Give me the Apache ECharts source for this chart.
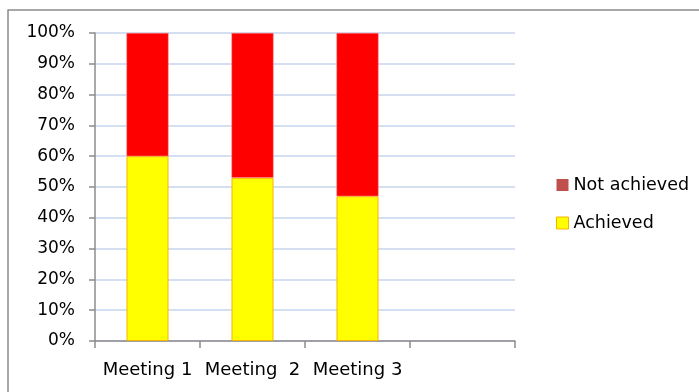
<!DOCTYPE html>
<html>
<head>
<meta charset="utf-8">
<script src="https://cdn.jsdelivr.net/npm/echarts@6/dist/echarts.min.js"></script>
<style>
  html, body { margin: 0; padding: 0; background: #fff; }
</style>
</head>
<body>
<div id="meetingChart" style="width: 699px; height: 392px"></div>
<script>
// data
let categories = ["Meeting 1", "Meeting  2", "Meeting 3", ""];
let achieved = [60, 53, 47, null];
let notAchieved = [40, 47, 53, null];
let seriesNames = ["Not achieved", "Achieved"];

let chartsOptions = {
  animation: false,
  textStyle: { fontFamily: "'DejaVu Sans', sans-serif" },
  graphic: [{
    type: "rect",
    shape: { x: 8, y: 10, width: 760, height: 460 },
    style: { fill: "none", stroke: "#8c8c8c", lineWidth: 1.5 },
    silent: true
  }],
  grid: {
    top: 33,
    left: 95,
    right: 184,
    bottom: 51
  },
  legend: {
    orient: "vertical",
    left: 551,
    top: 171,
    itemWidth: 12,
    itemHeight: 12,
    itemGap: 20,
    icon: "rect",
    textStyle: { fontSize: 17.5, color: "#000" },
    data: [
      { name: "Not achieved", itemStyle: { color: "#c0504d", borderWidth: 0 } },
      { name: "Achieved", itemStyle: { color: "#ffff00", borderColor: "#f5b400", borderWidth: 1 } }
    ]
  },
  xAxis: {
    type: "category",
    data: categories,
    boundaryGap: true,
    axisLine: { lineStyle: { color: "#8c8c8c", width: 1.5 } },
    axisTick: { show: true, length: 7, alignWithLabel: false, lineStyle: { color: "#8c8c8c", width: 1.5 } },
    axisLabel: { fontSize: 18, color: "#000", margin: 20, interval: 0 },
    splitLine: { show: false }
  },
  yAxis: {
    type: "value",
    min: 0,
    max: 100,
    interval: 10,
    axisLine: { show: true, lineStyle: { color: "#8c8c8c", width: 1.5 } },
    axisTick: { show: true, length: 6, lineStyle: { color: "#8c8c8c", width: 1.5 } },
    axisLabel: { formatter: "{value}%", fontSize: 17, color: "#000", margin: 20, padding: [4, 0, 0, 0] },
    splitLine: { show: true, lineStyle: { color: "#c6d4ec", width: 1.5 } }
  },
  series: [
    {
      name: seriesNames[1],
      type: "bar",
      stack: "total",
      barWidth: 42,
      data: achieved,
      itemStyle: { color: "#ffff00", borderColor: "#f5b400", borderWidth: 1 }
    },
    {
      name: seriesNames[0],
      type: "bar",
      stack: "total",
      barWidth: 42,
      data: notAchieved,
      itemStyle: { color: "#ff0000", borderColor: "#ff8080", borderWidth: 0.5 }
    }
  ]
};

let dataCharts = echarts.init(document.getElementById("meetingChart"));
dataCharts.setOption(chartsOptions);
</script>
</body>
</html>
